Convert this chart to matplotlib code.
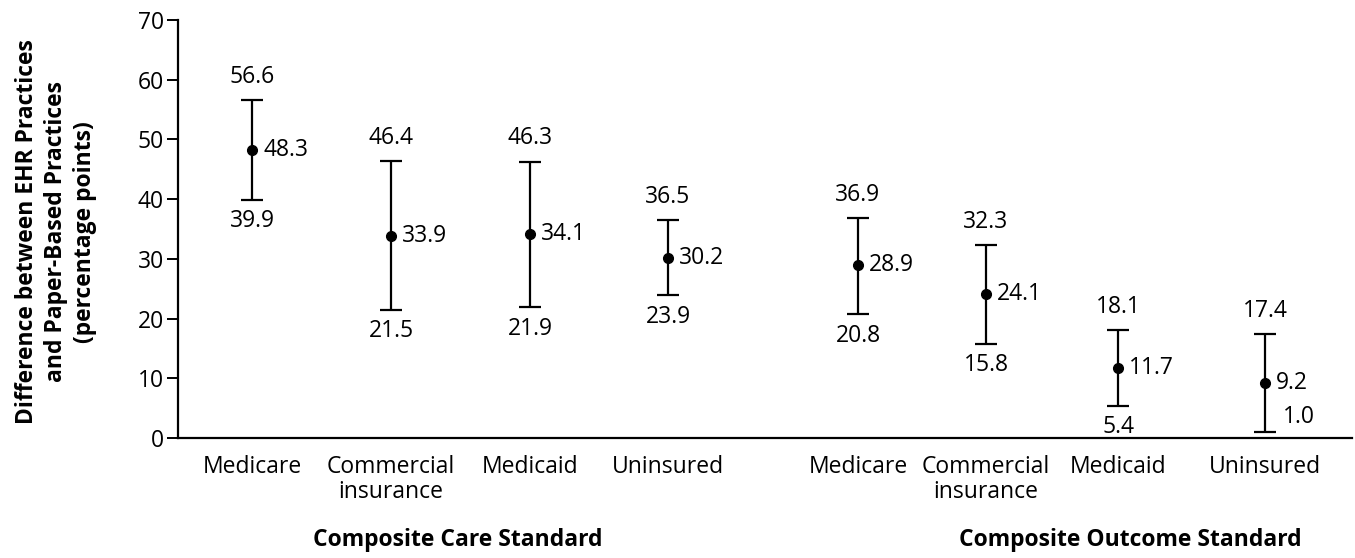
import matplotlib
matplotlib.use("Agg")
import matplotlib.pyplot as plt

plt.rcParams['font.family'] = ['Open Sans', 'DejaVu Sans']

categories = ["Medicare", "Commercial\ninsurance", "Medicaid", "Uninsured"] * 2
groups = ["Composite Care Standard", "Composite Outcome Standard"]
estimate = [48.3, 33.9, 34.1, 30.2, 28.9, 24.1, 11.7, 9.2]
lower = [39.9, 21.5, 21.9, 23.9, 20.8, 15.8, 5.4, 1.0]
upper = [56.6, 46.4, 46.3, 36.5, 36.9, 32.3, 18.1, 17.4]
yticks = [0, 10, 20, 30, 40, 50, 60, 70]

# horizontal placement of each interval along the axis
xpos = [74, 213, 352, 490, 680, 808, 940, 1087]
group_centers = [280, 952]

W, H = 1355, 558
fig = plt.figure(figsize=(W / 100, H / 100), dpi=100)
ax = fig.add_axes([178 / W, 1 - 438 / H, 1174 / W, 418 / H])

fs = 16.5
for x, m, lo, hi in zip(xpos, estimate, lower, upper):
    ax.errorbar([x], [m], yerr=[[m - lo], [hi - m]], fmt='o', color='black',
                ms=7, elinewidth=1.6, capsize=8, capthick=1.6, clip_on=False)
    ax.annotate(f"{m:.1f}", (x, m), xytext=(8, 0), textcoords='offset points',
                ha='left', va='center', fontsize=fs)
    ax.annotate(f"{hi:.1f}", (x, hi), xytext=(0, 8), textcoords='offset points',
                ha='center', va='bottom', fontsize=fs)
    if lo < 3:
        ax.annotate(f"{lo:.1f}", (x, lo), xytext=(13, 11), textcoords='offset points',
                    ha='left', va='center', fontsize=fs)
    else:
        ax.annotate(f"{lo:.1f}", (x, lo), xytext=(0, -7), textcoords='offset points',
                    ha='center', va='top', fontsize=fs)

ax.set_xlim(0, 1174)
ax.set_ylim(0, 70)
ax.set_yticks(yticks)
ax.set_xticks(xpos)
ax.set_xticklabels(categories, fontsize=fs, linespacing=1.1)
ax.tick_params(axis='x', length=0, pad=12)
ax.tick_params(axis='y', length=8, width=1.4, labelsize=fs, pad=2)
for side in ('top', 'right'):
    ax.spines[side].set_visible(False)
for side in ('left', 'bottom'):
    ax.spines[side].set_linewidth(1.6)

for gx, name in zip(group_centers, groups):
    ax.text(gx, -0.245, name, transform=ax.get_xaxis_transform(),
            ha='center', va='center', fontsize=fs, fontweight='bold')

fig.text(56 / W, 1 - 232 / H,
         "Difference between EHR Practices\nand Paper-Based Practices\n(percentage points)",
         rotation=90, ha='center', va='center', fontsize=fs, fontweight='bold',
         linespacing=1.3)

fig.savefig("out.png", dpi=100)
